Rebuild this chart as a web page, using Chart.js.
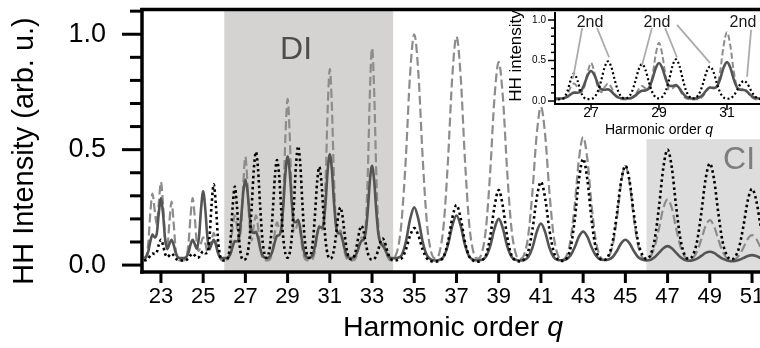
<!DOCTYPE html>
<html><head><meta charset="utf-8">
<script src="https://cdn.jsdelivr.net/npm/chart.js@4.4.1/dist/chart.umd.min.js"></script>
<style>
html,body{margin:0;padding:0;width:760px;height:348px;overflow:hidden;background:#fff;}
#main{position:absolute;left:0;top:0;width:780px;height:348px;}
#inset{position:absolute;left:500px;top:0;width:280px;height:140px;}
</style></head><body>
<canvas id="main" width="780" height="348"></canvas>
<canvas id="inset" width="280" height="140"></canvas>
<script>
// ---------- DATA ----------
const q = [
22.2,22.3,22.4,22.5,22.6,22.7,22.8,22.9,
23.0,23.1,23.2,23.3,23.4,23.5,23.6,23.7,23.8,23.9,
24.0,24.1,24.2,24.3,24.4,24.5,24.6,24.7,24.8,24.9,
25.0,25.1,25.2,25.3,25.4,25.5,25.6,25.7,25.8,25.9,
26.0,26.1,26.2,26.3,26.4,26.5,26.6,26.7,26.8,26.9,
27.0,27.1,27.2,27.3,27.4,27.5,27.6,27.7,27.8,27.9,
28.0,28.1,28.2,28.3,28.4,28.5,28.6,28.7,28.8,28.9,
29.0,29.1,29.2,29.3,29.4,29.5,29.6,29.7,29.8,29.9,
30.0,30.1,30.2,30.3,30.4,30.5,30.6,30.7,30.8,30.9,
31.0,31.1,31.2,31.3,31.4,31.5,31.6,31.7,31.8,31.9,
32.0,32.1,32.2,32.3,32.4,32.5,32.6,32.7,32.8,32.9,
33.0,33.1,33.2,33.3,33.4,33.5,33.6,33.7,33.8,33.9,
34.0,34.1,34.2,34.3,34.4,
34.6,34.8,
35.0,35.2,35.4,35.6,35.8,
36.0,36.2,36.4,36.6,36.8,
37.0,37.2,37.4,37.6,37.8,
38.0,38.2,38.4,38.6,38.8,
39.0,39.2,39.4,39.6,39.8,
40.0,40.2,40.4,40.6,40.8,
41.0,41.2,41.4,41.6,41.8,
42.0,42.2,42.4,42.6,42.8,
43.0,43.2,43.4,43.6,43.8,
44.0,44.2,44.4,44.6,44.8,
45.0,45.2,45.4,45.6,45.8,
46.0,46.2,46.4,46.6,46.8,
47.0,47.2,47.4,47.6,47.8,
48.0,48.2,48.4,48.6,48.8,
49.0,49.2,49.4,49.6,49.8,
50.0,50.2,50.4,50.6,50.8,
51.0,51.2,51.4,51.6
];
const dashedSeries = [
.02,.033,.095,.23,.31,.24,.175,.27,
.36,.26,.111,.081,.185,.275,.185,.066,.025,.02,
.02,.021,.032,.088,.21,.29,.21,.094,.061,.095,
.12,.095,.057,.061,.108,.14,.108,.055,.028,.02,
.02,.021,.033,.078,.167,.215,.17,.107,.17,.35,
.47,.35,.17,.107,.17,.215,.167,.078,.033,.021,
.02,.021,.031,.07,.145,.185,.157,.143,.285,.565,
.72,.565,.285,.143,.157,.185,.145,.07,.031,.021,
.02,.021,.029,.064,.13,.17,.153,.174,.365,.68,
.85,.68,.365,.168,.139,.15,.116,.058,.028,.02,
.02,.021,.026,.049,.094,.12,.119,.171,.40,.755,
.94,.755,.40,.165,.104,.10,.079,.043,.025,.02,
.027,.038,.063,.11,.19,
.462,.824,
1.0,.824,.462,.182,.057,
.029,.057,.181,.458,.815,
.99,.815,.458,.181,.057,
.028,.052,.162,.408,.725,
.88,.725,.408,.162,.052,
.026,.044,.129,.319,.565,
.685,.565,.319,.129,.044,
.024,.038,.107,.26,.458,
.555,.458,.26,.107,.038,
.022,.033,.086,.203,.356,
.43,.356,.203,.086,.033,
.024,.038,.083,.161,.247,
.285,.247,.161,.083,.039,
.025,.031,.06,.112,.169,
.195,.169,.112,.06,.031,
.021,.025,.044,.077,.114,
.13,.114,.077,.044
];
const solidSeries = [
.03,.036,.059,.104,.132,.12,.135,.227,
.29,.222,.111,.069,.091,.11,.089,.053,.035,.03,
.03,.031,.035,.053,.089,.11,.091,.071,.12,.243,
.32,.244,.12,.071,.091,.11,.089,.053,.035,.03,
.03,.03,.034,.05,.081,.104,.102,.121,.204,.316,
.37,.319,.214,.145,.139,.144,.118,.074,.044,.033,
.03,.032,.042,.066,.102,.126,.13,.158,.262,.402,
.47,.404,.271,.187,.186,.196,.158,.095,.051,.034,
.03,.034,.047,.083,.134,.166,.162,.178,.272,.412,
.48,.411,.268,.165,.138,.136,.11,.07,.043,.033,
.03,.032,.039,.058,.086,.105,.111,.142,.239,.368,
.43,.367,.237,.134,.095,.085,.07,.05,.037,.03,
.03,.03,.031,.034,.042,
.10,.197,
.25,.197,.10,.042,.024,
.02,.023,.038,.088,.17,
.215,.17,.088,.038,.023,
.02,.023,.037,.083,.158,
.20,.158,.083,.037,.023,
.02,.022,.035,.076,.143,
.18,.143,.076,.035,.022,
.021,.025,.041,.077,.123,
.145,.123,.077,.041,.025,
.022,.024,.035,.061,.094,
.11,.094,.061,.035,.024,
.02,.023,.035,.054,.073,
.082,.073,.054,.035,.023,
.019,.021,.028,.04,.053,
.058,.053,.04,.028,.021,
.017,.018,.023,.031,.039,
.043,.039,.031,.023
];
const dottedSeries = [
.02,.022,.029,.042,.05,.048,.055,.088,
.11,.086,.048,.035,.042,.05,.042,.029,.022,.02,
.02,.02,.022,.029,.042,.05,.042,.032,.034,.049,
.06,.051,.053,.119,.263,.35,.263,.116,.041,.022,
.02,.022,.04,.113,.255,.34,.255,.113,.04,.023,
.026,.049,.119,.255,.415,.49,.415,.255,.119,.05,
.032,.048,.111,.238,.386,.455,.386,.238,.111,.048,
.032,.052,.124,.268,.436,.515,.436,.268,.124,.052,
.032,.045,.105,.223,.361,.425,.361,.223,.105,.045,
.028,.034,.068,.135,.213,.25,.213,.135,.068,.034,
.025,.029,.052,.095,.146,.17,.146,.095,.052,.029,
.023,.026,.04,.068,.10,.115,.10,.068,.04,.026,
.021,.021,.022,.026,.029,
.066,.127,
.16,.127,.066,.029,.017,
.015,.019,.038,.101,.203,
.26,.203,.101,.038,.019,
.015,.02,.044,.124,.253,
.325,.253,.124,.044,.02,
.016,.024,.06,.154,.29,
.36,.29,.154,.06,.024,
.018,.027,.073,.195,.37,
.46,.37,.195,.073,.027,
.022,.041,.102,.223,.364,
.43,.364,.223,.102,.046,
.027,.046,.117,.258,.423,
.50,.423,.258,.117,.046,
.027,.043,.104,.228,.372,
.44,.372,.228,.104,.043,
.025,.035,.081,.173,.28,
.33,.28,.173,.081
];
const xTicks = [23,25,27,29,31,33,35,37,39,41,43,45,47,49,51];
const yTicks = [0, 0.5, 1.0];
const yTickLabels = ['0.0','0.5','1.0'];
const yMinorTicks = [0.1,0.2,0.3,0.4,0.6,0.7,0.8,0.9,1.1];
const insetXTicks = [27,29,31];
const insetYTicks = [0, 0.5, 1.0];
const insetYTickLabels = ['0.0','0.5','1.0'];
const insetYMinor = [0.1,0.2,0.3,0.4,0.6,0.7,0.8,0.9];
const diRange = [26, 34];
const ciRange = [46, 52];
const ciTop = 0.545;
const diLabel = {text:'DI', q:29.4, v:0.893};
const ciLabel = {text:'CI', q:49.63, v:0.416};
const secondLabels = [{q:26.97, v:0.914},{q:28.94, v:0.914},{q:31.47, v:0.914}];
const secondPointers = [
  [26.74,0.90,26.47,0.28],[27.18,0.90,27.53,0.54],
  [28.79,0.90,28.50,0.44],[29.18,0.90,29.53,0.54],[29.53,0.94,30.50,0.47],
  [31.71,0.88,31.59,0.30]
];

// ---------- RENDER ----------
const FONT = '"Liberation Sans", Arial, Helvetica, sans-serif';
Chart.defaults.font.family = FONT;
Chart.defaults.color = '#000';

function makeSets(widths, dashes){
  const pts = arr => q.map((v,i)=>({x:v, y:arr[i]}));
  return [
    {label:'dotted', data:pts(dottedSeries), borderColor:'#000000', borderWidth:widths[0], borderDash:dashes[0], order:0},
    {label:'solid', data:pts(solidSeries), borderColor:'#545454', borderWidth:widths[1], order:1},
    {label:'dashed', data:pts(dashedSeries), borderColor:'#8c8c8c', borderWidth:widths[2], borderDash:dashes[2], order:2}
  ].map(d=>Object.assign(d,{pointRadius:0, fill:false, cubicInterpolationMode:'monotone', borderCapStyle:'butt'}));
}
function line(ctx,x0,y0,x1,y1){ctx.beginPath();ctx.moveTo(x0,y0);ctx.lineTo(x1,y1);ctx.stroke();}
function drawMixed(ctx, parts, cx, cy, size){
  let total=0;
  const ws = parts.map(([t,it])=>{ctx.font=(it?'italic ':'')+size+'px '+FONT; const w=ctx.measureText(t).width; total+=w; return w;});
  let xx = cx-total/2; ctx.textAlign='left'; ctx.textBaseline='middle';
  parts.forEach(([t,it],i)=>{ctx.font=(it?'italic ':'')+size+'px '+FONT; ctx.fillText(t,xx,cy); xx+=ws[i];});
}
function noPad(s){ s.paddingTop=0; s.paddingBottom=0; s.paddingLeft=0; s.paddingRight=0; }

const mainDecor = {
  id:'mainDecor',
  beforeDatasetsDraw(chart){
    const {ctx, chartArea:a, scales:{x,y}} = chart;
    ctx.save();
    const x0 = x.getPixelForValue(diRange[0]), x1 = x.getPixelForValue(diRange[1]);
    ctx.fillStyle = '#d4d3d2';
    ctx.fillRect(x0, a.top, x1-x0, a.bottom-a.top);
    const c0 = x.getPixelForValue(ciRange[0]), c1 = Math.min(x.getPixelForValue(ciRange[1]), a.right);
    const ct = y.getPixelForValue(ciTop);
    ctx.fillStyle = '#deddde';
    ctx.fillRect(c0, ct, c1-c0, a.bottom-ct);
    ctx.font = '32px '+FONT; ctx.textBaseline='alphabetic';
    ctx.fillStyle = '#4d4d4d'; ctx.textAlign='center';
    ctx.fillText(diLabel.text, x.getPixelForValue(diLabel.q), y.getPixelForValue(diLabel.v));
    ctx.fillStyle = '#7d7d7d'; ctx.textAlign='left';
    ctx.fillText(ciLabel.text, x.getPixelForValue(ciLabel.q), y.getPixelForValue(ciLabel.v));
    ctx.restore();
  },
  afterDraw(chart){
    const {ctx, chartArea:a, scales:{x,y}} = chart;
    ctx.save();
    ctx.strokeStyle='#000'; ctx.lineCap='butt';
    ctx.lineWidth=3.5;
    const L = a.left-1;
    line(ctx, L, a.top-2, L, a.bottom+1.75);
    line(ctx, L-1.75, a.bottom, chart.width, a.bottom);
    line(ctx, L-1.75, a.top-0.5, chart.width, a.top-0.5);
    ctx.lineWidth=3;
    yTicks.forEach(v=>{const p=y.getPixelForValue(v); line(ctx, L-20, p, L, p);});
    yMinorTicks.forEach(v=>{const p=y.getPixelForValue(v); line(ctx, L-12, p, L, p);});
    xTicks.forEach(v=>{const p=x.getPixelForValue(v); line(ctx, p, a.bottom, p, a.bottom+11);});
    ctx.fillStyle='#000';
    ctx.save(); ctx.translate(25, 151); ctx.rotate(-Math.PI/2);
    ctx.font='29px '+FONT; ctx.textAlign='center'; ctx.textBaseline='middle';
    ctx.fillText('HH Intensity (arb. u.)',0,0); ctx.restore();
    drawMixed(ctx, [['Harmonic order ',false],['q',true]], (a.left+a.right)/2, 328, 28.5);
    ctx.restore();
  }
};

new Chart(document.getElementById('main'), {
  type:'line',
  data:{datasets: makeSets([2.6,2.6,2.2], [[2.5,3],null,[9,4]])},
  options:{
    responsive:false, devicePixelRatio:1, animation:false, events:[],
    layout:{autoPadding:false, padding:{left:0, top:10, right:17, bottom:0}},
    plugins:{legend:{display:false}, tooltip:{enabled:false}},
    scales:{
      x:{type:'linear', min:22.15, max:51.52,
         grid:{display:false, drawTicks:false}, border:{display:false},
         afterBuildTicks:s=>{s.ticks = xTicks.map(v=>({value:v}));},
         ticks:{font:{size:22}, color:'#000', padding:12, maxRotation:0, autoSkip:false, callback:v=>String(v)},
         afterFit:s=>{s.height = 76; noPad(s);}},
      y:{type:'linear', min:-0.03, max:1.105,
         grid:{display:false, drawTicks:false}, border:{display:false},
         afterBuildTicks:s=>{s.ticks = yTicks.map(v=>({value:v}));},
         ticks:{font:{size:27}, color:'#000', padding:37, autoSkip:false, callback:(v,i)=>yTickLabels[i]},
         afterFit:s=>{s.width = 143; noPad(s);}}
    }
  },
  plugins:[mainDecor]
});

const insetDecor = {
  id:'insetDecor',
  beforeDatasetsDraw(chart){
    const {ctx, chartArea:a} = chart;
    ctx.save(); ctx.fillStyle='#fff'; ctx.fillRect(a.left, a.top, a.right-a.left, a.bottom-a.top); ctx.restore();
  },
  afterDraw(chart){
    const {ctx, chartArea:a, scales:{x,y}} = chart;
    ctx.save();
    ctx.strokeStyle='#ababab'; ctx.lineWidth=1.8;
    secondPointers.forEach(p=>line(ctx, x.getPixelForValue(p[0]), y.getPixelForValue(p[1]), x.getPixelForValue(p[2]), y.getPixelForValue(p[3])));
    ctx.fillStyle='#1a1a1a'; ctx.font='16px '+FONT; ctx.textAlign='center'; ctx.textBaseline='alphabetic';
    secondLabels.forEach(s=>ctx.fillText('2nd', x.getPixelForValue(s.q), y.getPixelForValue(s.v)));
    ctx.strokeStyle='#000'; ctx.lineWidth=2;
    line(ctx, a.left, a.top, a.left, a.bottom+1);
    line(ctx, a.left-1, a.bottom, chart.width, a.bottom);
    ctx.lineWidth=1.5;
    insetYTicks.forEach(v=>{const p=y.getPixelForValue(v); line(ctx, a.left-7, p, a.left, p);});
    insetYMinor.forEach(v=>{const p=y.getPixelForValue(v); line(ctx, a.left-4, p, a.left, p);});
    insetXTicks.forEach(v=>{const p=x.getPixelForValue(v); line(ctx, p, a.bottom, p, a.bottom+6);});
    ctx.fillStyle='#000';
    ctx.save(); ctx.translate(16, 56); ctx.rotate(-Math.PI/2);
    ctx.font='17px '+FONT; ctx.textAlign='center'; ctx.textBaseline='middle';
    ctx.fillText('HH intensity',0,0); ctx.restore();
    drawMixed(ctx, [['Harmonic order ',false],['q',true]], (a.left+a.right)/2, 130, 14);
    ctx.restore();
  }
};

new Chart(document.getElementById('inset'), {
  type:'line',
  data:{datasets: makeSets([2.2,2.6,2.0], [[2,2.5],null,[6,3]])},
  options:{
    responsive:false, devicePixelRatio:1, animation:false, events:[],
    layout:{autoPadding:false, padding:{left:0, top:12, right:17, bottom:0}},
    plugins:{legend:{display:false}, tooltip:{enabled:false}},
    scales:{
      x:{type:'linear', min:25.94, max:32.06,
         grid:{display:false, drawTicks:false}, border:{display:false},
         afterBuildTicks:s=>{s.ticks = insetXTicks.map(v=>({value:v}));},
         ticks:{font:{size:14}, color:'#000', padding:1, maxRotation:0, autoSkip:false, callback:v=>String(v)},
         afterFit:s=>{s.height = 36; noPad(s);}},
      y:{type:'linear', min:-0.037, max:1.099,
         grid:{display:false, drawTicks:false}, border:{display:false},
         afterBuildTicks:s=>{s.ticks = insetYTicks.map(v=>({value:v}));},
         ticks:{font:{size:10}, color:'#000', padding:9, autoSkip:false, callback:(v,i)=>insetYTickLabels[i]},
         afterFit:s=>{s.width = 55; noPad(s);}}
    }
  },
  plugins:[insetDecor]
});
</script>
</body></html>
